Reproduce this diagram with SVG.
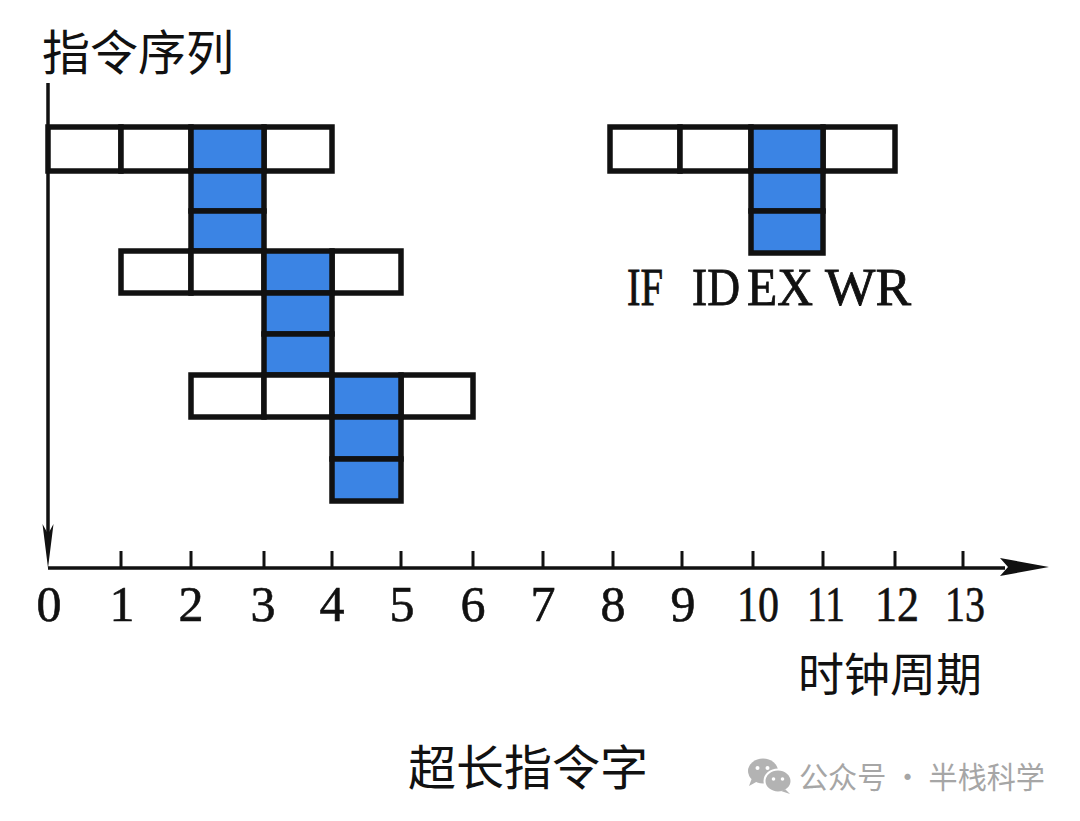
<svg xmlns="http://www.w3.org/2000/svg" width="1080" height="821" viewBox="0 0 1080 821">
  <style>
    .cell { fill: #ffffff; stroke: #111111; stroke-width: 5.5; }
    .blue { fill: #3b84e4; stroke: #111111; stroke-width: 5.5; }
    .axis { stroke: #111111; stroke-width: 3.5; fill: none; }
    .tick { stroke: #111111; stroke-width: 3; }
    .num { font-family: "Liberation Serif", serif; font-size: 50px; fill: #111111; stroke: #111111; stroke-width: 0.6; text-anchor: middle; }
    .stage { font-family: "Liberation Serif", serif; font-size: 52px; fill: #111111; stroke: #111111; stroke-width: 0.8; }
    .cjk { font-family: "Noto Sans CJK SC", sans-serif; fill: #111111; }
    .wm { font-family: "Noto Sans CJK SC", sans-serif; font-size: 30px; fill: #a6a6a6; }
  </style>
  <rect width="1080" height="821" fill="#ffffff"/>

  <g id="axes">
    <line class="axis" x1="48" y1="83" x2="48" y2="540"/>
    <polygon points="48,568 42.5,524 48,534 53.5,524" fill="#111111"/>
    <line class="axis" x1="48" y1="568" x2="1005" y2="568"/>
    <polygon points="1049,567 1000,558 1008,567 1000,576" fill="#111111"/>
    <g id="ticks">
      <line class="tick" x1="121" y1="551" x2="121" y2="568"/>
      <line class="tick" x1="191" y1="551" x2="191" y2="568"/>
      <line class="tick" x1="264" y1="551" x2="264" y2="568"/>
      <line class="tick" x1="332" y1="551" x2="332" y2="568"/>
      <line class="tick" x1="401" y1="551" x2="401" y2="568"/>
      <line class="tick" x1="473" y1="551" x2="473" y2="568"/>
      <line class="tick" x1="543" y1="551" x2="543" y2="568"/>
      <line class="tick" x1="613" y1="551" x2="613" y2="568"/>
      <line class="tick" x1="682" y1="551" x2="682" y2="568"/>
      <line class="tick" x1="753" y1="551" x2="753" y2="568"/>
      <line class="tick" x1="823" y1="551" x2="823" y2="568"/>
      <line class="tick" x1="895" y1="551" x2="895" y2="568"/>
      <line class="tick" x1="963" y1="551" x2="963" y2="568"/>
    </g>
    <g id="tick-labels">
      <text class="num" x="49" y="621">0</text>
      <text class="num" x="122" y="621">1</text>
      <text class="num" x="191" y="621">2</text>
      <text class="num" x="263" y="621">3</text>
      <text class="num" x="332" y="621">4</text>
      <text class="num" x="402" y="621">5</text>
      <text class="num" x="473" y="621">6</text>
      <text class="num" x="543" y="621">7</text>
      <text class="num" x="613" y="621">8</text>
      <text class="num" x="683" y="621">9</text>
      <text class="num" x="758" y="621" textLength="42" lengthAdjust="spacingAndGlyphs">10</text>
      <text class="num" x="826" y="621" textLength="38" lengthAdjust="spacingAndGlyphs">11</text>
      <text class="num" x="897" y="621" textLength="44" lengthAdjust="spacingAndGlyphs">12</text>
      <text class="num" x="965" y="621" textLength="40" lengthAdjust="spacingAndGlyphs">13</text>
    </g>
    <text id="y-title" class="cjk" x="42" y="70" font-size="48">指令序列</text>
    <text id="x-title" class="cjk" x="798" y="691" font-size="46">时钟周期</text>
  </g>

  <g id="instr1">
    <rect class="cell" x="48" y="127" width="73" height="44"/>
    <rect class="cell" x="121" y="127" width="70" height="44"/>
    <rect class="cell" x="264" y="127" width="68" height="44"/>
    <rect class="blue" x="191" y="127" width="73" height="44"/>
    <rect class="blue" x="191" y="171" width="73" height="40"/>
    <rect class="blue" x="191" y="211" width="73" height="40"/>
  </g>

  <g id="instr2">
    <rect class="cell" x="121" y="251" width="70" height="42"/>
    <rect class="cell" x="191" y="251" width="73" height="42"/>
    <rect class="cell" x="332" y="251" width="69" height="42"/>
    <rect class="blue" x="264" y="251" width="68" height="42"/>
    <rect class="blue" x="264" y="293" width="68" height="41"/>
    <rect class="blue" x="264" y="334" width="68" height="41"/>
  </g>

  <g id="instr3">
    <rect class="cell" x="191" y="375" width="73" height="42"/>
    <rect class="cell" x="264" y="375" width="68" height="42"/>
    <rect class="cell" x="401" y="375" width="72" height="42"/>
    <rect class="blue" x="332" y="375" width="69" height="42"/>
    <rect class="blue" x="332" y="417" width="69" height="42"/>
    <rect class="blue" x="332" y="459" width="69" height="42"/>
  </g>

  <g id="legend">
    <rect class="cell" x="610" y="127" width="70" height="44"/>
    <rect class="cell" x="680" y="127" width="71" height="44"/>
    <rect class="cell" x="823" y="127" width="72" height="44"/>
    <rect class="blue" x="751" y="127" width="72" height="44"/>
    <rect class="blue" x="751" y="171" width="72" height="40"/>
    <rect class="blue" x="751" y="211" width="72" height="42"/>
    <text class="stage" x="627" y="305" textLength="36" lengthAdjust="spacingAndGlyphs">IF</text>
    <text class="stage" x="692" y="305" textLength="48" lengthAdjust="spacingAndGlyphs">ID</text>
    <text class="stage" x="747" y="305" textLength="66" lengthAdjust="spacingAndGlyphs">EX</text>
    <text class="stage" x="825" y="305" textLength="86" lengthAdjust="spacingAndGlyphs">WR</text>
  </g>

  <text id="caption" class="cjk" x="408" y="785" font-size="48">超长指令字</text>

  <g id="watermark">
    <ellipse cx="763" cy="771" rx="15" ry="12.5" fill="#b3b3b3"/>
    <polygon points="752,778 749,786 758,781" fill="#b3b3b3"/>
    <circle cx="757.5" cy="768" r="2" fill="#ffffff"/>
    <circle cx="767.5" cy="768" r="2" fill="#ffffff"/>
    <ellipse cx="778" cy="781" rx="13.5" ry="11.5" fill="#b3b3b3" stroke="#ffffff" stroke-width="2"/>
    <polygon points="785,789 790,794 781,791" fill="#b3b3b3"/>
    <circle cx="773.5" cy="779" r="1.8" fill="#ffffff"/>
    <circle cx="782.5" cy="779" r="1.8" fill="#ffffff"/>
    <text class="wm" x="799" y="788" textLength="246" lengthAdjust="spacingAndGlyphs">公众号 · 半栈科学</text>
  </g>
</svg>
